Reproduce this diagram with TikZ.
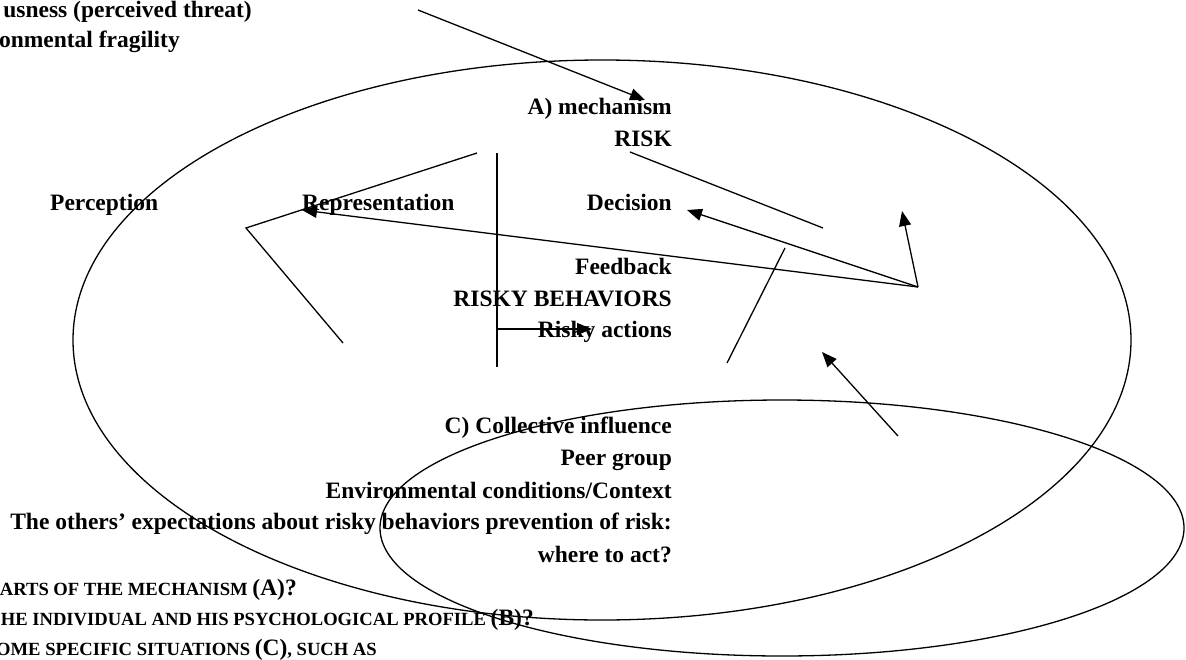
\documentclass[tikz,border=0pt]{standalone}
\usepackage{fontspec}
\setmainfont{Liberation Serif}
\usetikzlibrary{arrows.meta}
\tikzset{
  lbl/.style={inner sep=0pt, font=\fontsize{23.5}{28}\selectfont\bfseries},
  ln/.style={line width=1.3pt},
  arr/.style={ln, -{Triangle[length=15pt,width=12pt]}},
  ring/.style={line width=1.3pt}
}
\newcommand\fsc[1]{{\fontsize{18.6}{20}\selectfont #1}}
\begin{document}
\begin{tikzpicture}[x=1pt,y=-1pt]
\useasboundingbox (0,0) rectangle (1186,659);
\clip (0,0) rectangle (1186,659);
% ellipses
\draw[ring] (602,340) ellipse [x radius=529pt, y radius=280pt];
\draw[ring] (782,528) ellipse [x radius=402pt, y radius=128pt];
% texts
\node[lbl, anchor=base east] (t1) at (252,17) {usness (perceived threat)};
\node[lbl, anchor=base east] (t2) at (180,47) {ronmental fragility};
\node[lbl, anchor=base east] (mech) at (672,114) {A) mechanism};
\node[lbl, anchor=base east] (risk) at (672,146) {RISK};
\node[lbl, anchor=base west] (perc) at (50,210) {Perception};
\node[lbl, anchor=base west] (repr) at (302,210) {Representation};
\node[lbl, anchor=base east] (dec) at (672,210) {Decision};
\node[lbl, anchor=base east] (feed) at (672,274) {Feedback};
\node[lbl, anchor=base east] (rb) at (672,306) {RISKY BEHAVIORS};
\node[lbl, anchor=base east] (ra) at (672,337) {Risky actions};
\node[lbl, anchor=base east] (ci) at (672,433) {C) Collective influence};
\node[lbl, anchor=base east] (peer) at (672,465) {Peer group};
\node[lbl, anchor=base east] (env) at (672,498) {Environmental conditions/Context};
\node[lbl, anchor=base east] (oth) at (672,529) {The others’ expectations about risky behaviors prevention of risk:};
\node[lbl, anchor=base east] (wta) at (672,562) {where to act?};
\node[lbl, anchor=base east] (q1) at (297,595) {\fsc{ARTS OF THE MECHANISM }(A)?};
\node[lbl, anchor=base east] (q2) at (534,625) {\fsc{HE INDIVIDUAL AND HIS PSYCHOLOGICAL PROFILE }(B)?};
\node[lbl, anchor=base east] (q3) at (377,655) {\fsc{OME SPECIFIC SITUATIONS }(C)\fsc{, SUCH AS}};
% connector points
\coordinate (a0) at (418,10);
\coordinate (a1) at (645,100);
\coordinate (v1) at (477,153);
\coordinate (v2) at (246,228);
\coordinate (v3) at (343,343);
\coordinate (s1) at (497,153);
\coordinate (s2) at (497,367);
\coordinate (h1) at (497,329);
\coordinate (h2) at (592,329);
\coordinate (r1) at (630,152);
\coordinate (r2) at (823,228);
\coordinate (hub) at (918,287);
\coordinate (pr) at (302,210);
\coordinate (pd) at (687,210);
\coordinate (pu) at (902,211);
\coordinate (m1) at (785,248);
\coordinate (m2) at (727,363);
\coordinate (c1) at (898,436);
\coordinate (c2) at (822,352);
% connectors
\draw[arr] (a0) -- (a1);
\draw[ln] (v1) -- (v2) -- (v3);
\draw[ln] (s1) -- (s2);
\draw[arr] (h1) -- (h2);
\draw[ln] (r1) -- (r2);
\draw[arr] (hub) -- (pr);
\draw[arr] (hub) -- (pd);
\draw[arr] (hub) -- (pu);
\draw[ln] (m1) -- (m2);
\draw[arr] (c1) -- (c2);
\end{tikzpicture}
\end{document}
